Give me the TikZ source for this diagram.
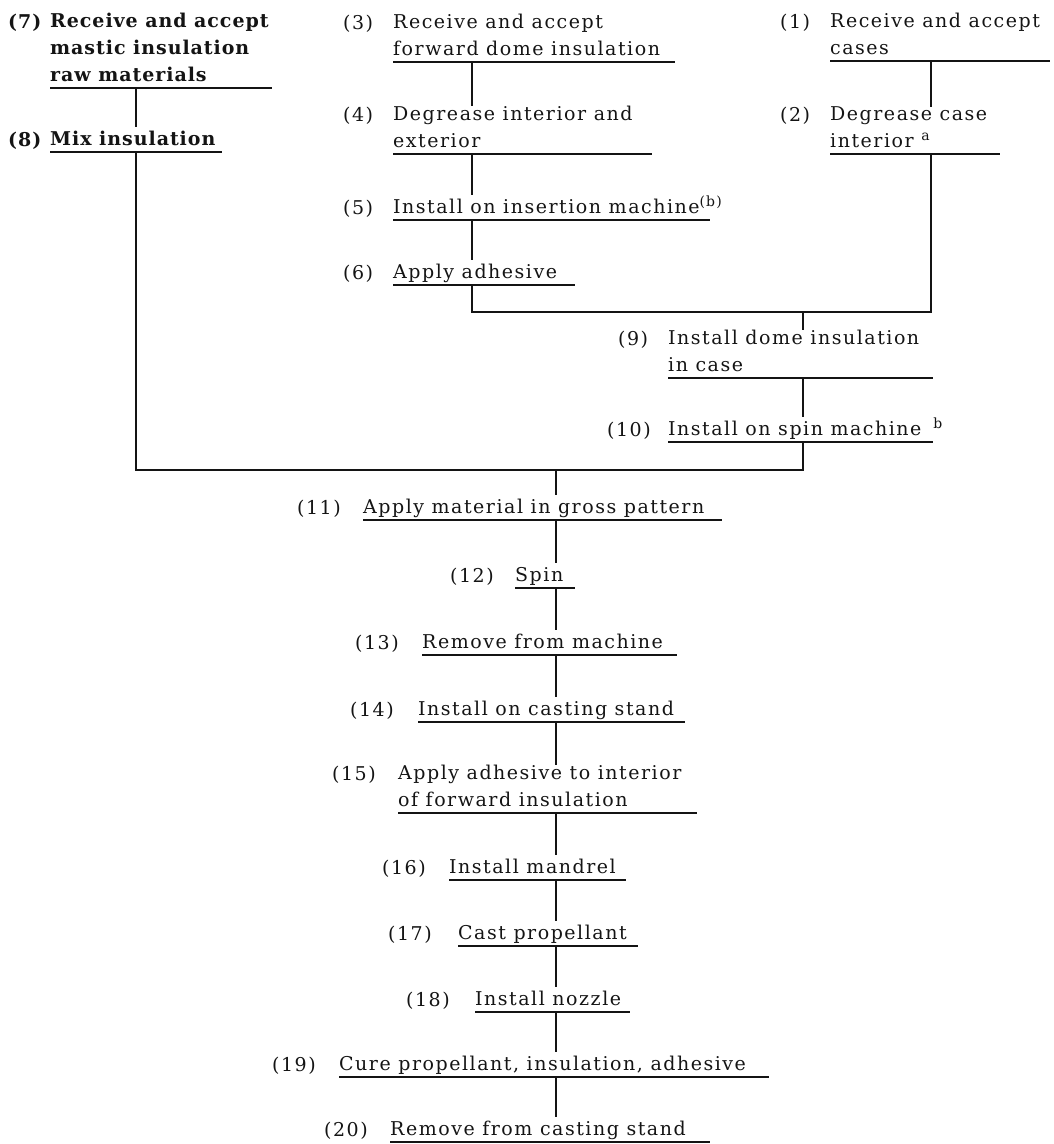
\documentclass[tikz,border=0pt]{standalone}
\usepackage{fontspec}
\setmainfont{DejaVu Serif}[LetterSpace=8, BoldFeatures={LetterSpace=5}]
\usepackage{tikz}
\usetikzlibrary{positioning,calc}
\definecolor{ink}{HTML}{141414}
\newcommand\itemfont{\fontsize{19}{27}\selectfont}
\newcommand\noteref[1]{\raisebox{7pt}{\fontsize{14}{14}\selectfont #1}}
\tikzset{
  stepnode/.style={anchor=south west, inner sep=0pt, align=left, text=ink,
    font=\itemfont, execute at begin node=\rule{0pt}{19pt},
    execute at end node=\rule[-6pt]{0pt}{6pt}},
  numlabel/.style={anchor=base west, inner sep=0pt, text=ink, font=\itemfont},
  uline/.style={draw=ink, line width=1.4pt},
  link/.style={draw=ink, line width=1.1pt},
  busline/.style={draw=ink, line width=1.8pt},
}

\begin{document}
\begin{tikzpicture}[x=1pt, y=-1pt]
  \useasboundingbox (0,0) rectangle (1054,1144);

  % columns of the connectors
  \coordinate (colL) at (136,0);
  \coordinate (colA) at (472,0);
  \coordinate (colB) at (931,0);
  \coordinate (join) at (803,312);
  \coordinate (bus)  at (556,470);

  % left branch
  \node[numlabel, font=\itemfont\bfseries] (l7) at (8,28) {(7)};
  \node[stepnode, font=\itemfont\bfseries] (n7) at (50,88) {Receive and accept\\mastic insulation\\raw materials};
  \node[numlabel, font=\itemfont\bfseries] (l8) at (8,146) {(8)};
  \node[stepnode, font=\itemfont\bfseries] (n8) at (50,152) {Mix insulation};

  % middle branch
  \node[numlabel] (l3) at (343,29) {(3)};
  \node[stepnode] (n3) at (393,62) {Receive and accept\\forward dome insulation};
  \node[numlabel] (l4) at (343,121) {(4)};
  \node[stepnode] (n4) at (393,154) {Degrease interior and\\exterior};
  \node[numlabel] (l5) at (343,214) {(5)};
  \node[stepnode] (n5) at (393,220) {Install on insertion machine\rlap{\noteref{(b)}}};
  \node[numlabel] (l6) at (343,279) {(6)};
  \node[stepnode] (n6) at (393,285) {Apply adhesive};

  % right branch
  \node[numlabel] (l1) at (780,28) {(1)};
  \node[stepnode] (n1) at (830,61) {Receive and accept\\cases};
  \node[numlabel] (l2) at (780,121) {(2)};
  \node[stepnode] (n2) at (830,154) {Degrease case\\interior \noteref{a}};

  \node[numlabel] (l9) at (618,345) {(9)};
  \node[stepnode] (n9) at (668,378) {Install dome insulation\\in case};
  \node[numlabel] (l10) at (607,436) {(10)};
  \node[stepnode] (n10) at (668,442) {Install on spin machine\rlap{\hspace{12pt}\noteref{b}}};

  % main line
  \node[numlabel] (l11) at (297,514) {(11)};
  \node[stepnode] (n11) at (363,520) {Apply material in gross pattern};
  \node[numlabel] (l12) at (450,582) {(12)};
  \node[stepnode] (n12) at (515,588) {Spin};
  \node[numlabel] (l13) at (355,649) {(13)};
  \node[stepnode] (n13) at (422,655) {Remove from machine};
  \node[numlabel] (l14) at (350,716) {(14)};
  \node[stepnode] (n14) at (418,722) {Install on casting stand};
  \node[numlabel] (l15) at (332,780) {(15)};
  \node[stepnode] (n15) at (398,813) {Apply adhesive to interior\\of forward insulation};
  \node[numlabel] (l16) at (382,874) {(16)};
  \node[stepnode] (n16) at (449,880) {Install mandrel};
  \node[numlabel] (l17) at (388,940) {(17)};
  \node[stepnode] (n17) at (458,946) {Cast propellant};
  \node[numlabel] (l18) at (406,1006) {(18)};
  \node[stepnode] (n18) at (475,1012) {Install nozzle};
  \node[numlabel] (l19) at (272,1071) {(19)};
  \node[stepnode] (n19) at (339,1077) {Cure propellant, insulation, adhesive};
  \node[numlabel] (l20) at (324,1136) {(20)};
  \node[stepnode] (n20) at (390,1142) {Remove from casting stand};

  % underlines
  \foreach \n/\w in {n7/222, n8/172, n3/282, n4/259, n5/317, n6/182, n1/220,
      n2/170, n9/265, n10/265, n11/359, n12/60, n13/255, n14/267, n15/299,
      n16/177, n17/180, n18/155, n19/430, n20/320}
    \draw[uline] (\n.south west) -- ++(\w,0);

  % connectors
  \draw[link] (n7.south -| colL) -- (n8.north -| colL);
  \draw[link] (n3.south -| colA) -- (n4.north -| colA);
  \draw[link] (n4.south -| colA) -- (n5.north -| colA);
  \draw[link] (n5.south -| colA) -- (n6.north -| colA);
  \draw[link] (n1.south -| colB) -- (n2.north -| colB);
  \draw[link] (n6.south -| colA) |- (join) -| (n2.south -| colB);
  \draw[link] (join) -- (n9.north -| join);
  \draw[link] (n9.south -| join) -- (n10.north -| join);
  \draw[busline] (n8.south -| colL) |- (bus) -| (n10.south -| join);
  \draw[link] (bus) -- (n11.north -| bus);
  \foreach \a/\b in {n11/n12, n12/n13, n13/n14, n14/n15, n15/n16, n16/n17,
      n17/n18, n18/n19}
    \draw[link] (\a.south -| bus) -- (\b.north -| bus);
  \draw[busline] (n19.south -| bus) -- (n20.north -| bus);
\end{tikzpicture}
\end{document}
